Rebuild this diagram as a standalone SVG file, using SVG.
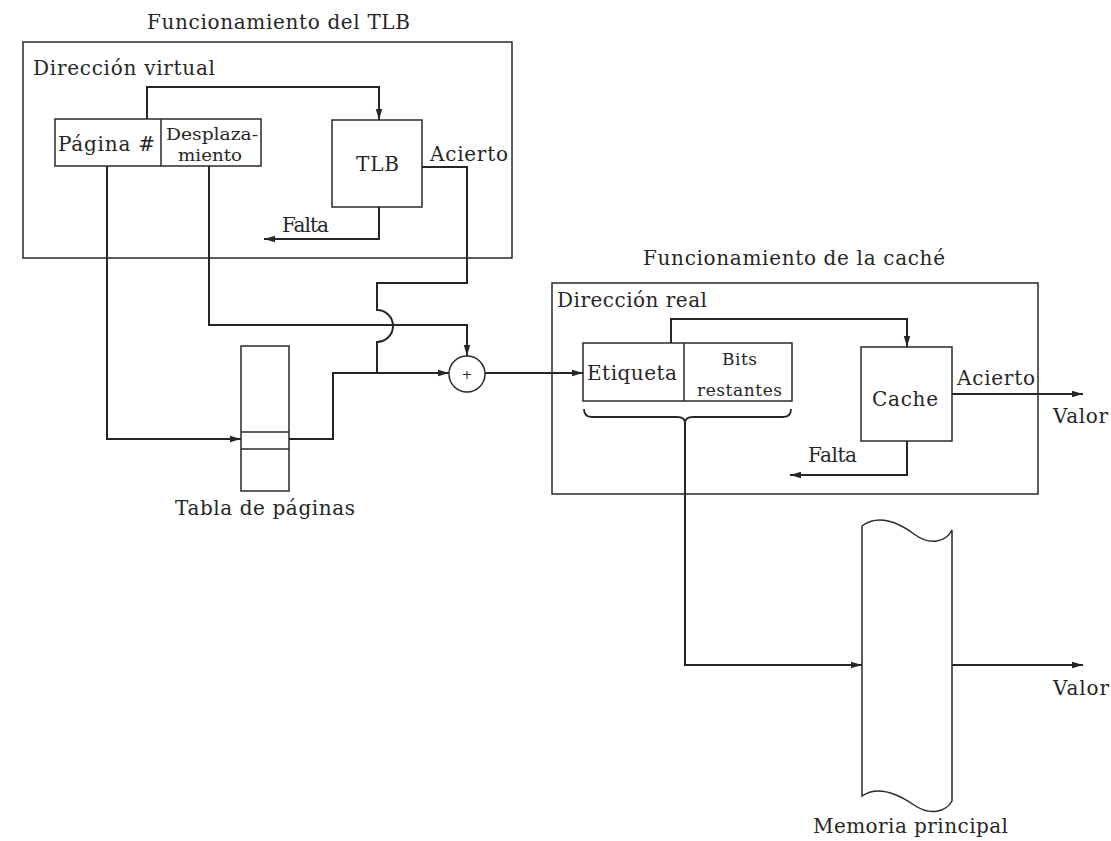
<svg xmlns="http://www.w3.org/2000/svg" width="1111" height="841" viewBox="0 0 1111 841">
<style>
text{font-family:"DejaVu Serif","Liberation Serif",serif;font-size:20px;fill:#262626}
.s{font-size:17px}
.xs{font-size:16px}
.box{fill:none;stroke:#2a2a2a;stroke-width:1.5}
.ln{fill:none;stroke:#262626;stroke-width:2}
</style>
<defs>
<marker id="ah" markerUnits="userSpaceOnUse" markerWidth="12" markerHeight="8" refX="11" refY="4" orient="auto">
<path d="M0,0.8 L11,4 L0,7.2 Z" fill="#262626"/>
</marker>
</defs>
<rect width="1111" height="841" fill="#ffffff"/>

<g id="tlb-section">
<text x="147" y="29" textLength="263">Funcionamiento del TLB</text>
<rect class="box" x="23" y="42" width="489" height="216"/>
<text x="33" y="75" textLength="182">Dirección virtual</text>
</g>

<g id="virtual-address">
<rect class="box" x="55" y="119" width="206" height="47"/>
<line class="box" x1="161" y1="119" x2="161" y2="166"/>
<text x="58" y="151" textLength="97">Página #</text>
<text class="xs" x="166" y="140" textLength="92" lengthAdjust="spacingAndGlyphs">Desplaza-</text>
<text class="xs" x="178" y="161" textLength="64" lengthAdjust="spacingAndGlyphs">miento</text>
</g>

<g id="tlb">
<rect class="box" x="332" y="120" width="90" height="87"/>
<text x="356" y="171" textLength="43">TLB</text>
</g>
<g id="tlb-acierto-label"><text x="430" y="161" textLength="78">Acierto</text></g>
<g id="tlb-falta-label"><text x="282" y="232" textLength="47">Falta</text></g>

<g id="page-table">
<rect class="box" x="241" y="346" width="48" height="145"/>
<line class="box" x1="241" y1="432" x2="289" y2="432"/>
<line class="box" x1="241" y1="449" x2="289" y2="449"/>
<text x="175" y="515" textLength="180">Tabla de páginas</text>
</g>

<g id="adder">
<circle class="box" cx="467" cy="374" r="18"/>
<text x="467" y="379" text-anchor="middle" style="font-size:13px">+</text>
</g>

<g id="cache-section">
<text x="643" y="265" textLength="302">Funcionamiento de la caché</text>
<rect class="box" x="552" y="283" width="486" height="211"/>
<text x="557" y="307" textLength="150">Dirección real</text>
</g>

<g id="real-address">
<rect class="box" x="583" y="343" width="209" height="58"/>
<line class="box" x1="684" y1="343" x2="684" y2="401"/>
<text x="587" y="380" textLength="90">Etiqueta</text>
<text class="s" x="722" y="365" textLength="35">Bits</text>
<text class="s" x="697" y="396" textLength="85">restantes</text>
<path class="ln" d="M584,409 Q584,417 592,417 H677 Q685,417 685,423 Q685,417 693,417 H783 Q791,417 791,409" style="stroke-width:1.8"/>
</g>

<g id="cache">
<rect class="box" x="861" y="347" width="91" height="94"/>
<text x="872" y="406" textLength="66">Cache</text>
</g>
<g id="cache-acierto-label"><text x="957" y="385" textLength="78">Acierto</text></g>
<g id="cache-valor-label"><text x="1053" y="423" textLength="55">Valor</text></g>
<g id="cache-falta-label"><text x="808" y="462" textLength="49">Falta</text></g>

<g id="main-memory">
<path class="box" d="M862,526 C878,514 898,522 914,534 C930,546 946,542 952,530 L952,801 C946,812 930,816 914,805 C898,794 878,785 862,796 Z"/>
<text x="813" y="833" textLength="195">Memoria principal</text>
</g>
<g id="memory-valor-label"><text x="1053" y="695" textLength="56">Valor</text></g>

<g id="connectors">
<path class="ln" d="M147,119 V87 H379 V120" marker-end="url(#ah)"/>
<path class="ln" d="M107,166 V439 H241" marker-end="url(#ah)"/>
<path class="ln" d="M209,166 V325 H467 V356" marker-end="url(#ah)"/>
<path class="ln" d="M422,167 H467 V283 H377 V310 A16,16 0 0 1 377,342 V373"/>
<path class="ln" d="M289,439 H333 V373 H449" marker-end="url(#ah)"/>
<path class="ln" d="M379,207 V239 H264" marker-end="url(#ah)"/>
<path class="ln" d="M485,373 H583" marker-end="url(#ah)"/>
<path class="ln" d="M671,343 V319 H907 V347" marker-end="url(#ah)"/>
<path class="ln" d="M952,394 H1083" marker-end="url(#ah)"/>
<path class="ln" d="M907,441 V475 H790" marker-end="url(#ah)"/>
<path class="ln" d="M685,423 V665 H862" marker-end="url(#ah)"/>
<path class="ln" d="M952,665 H1083" marker-end="url(#ah)"/>
</g>
</svg>
